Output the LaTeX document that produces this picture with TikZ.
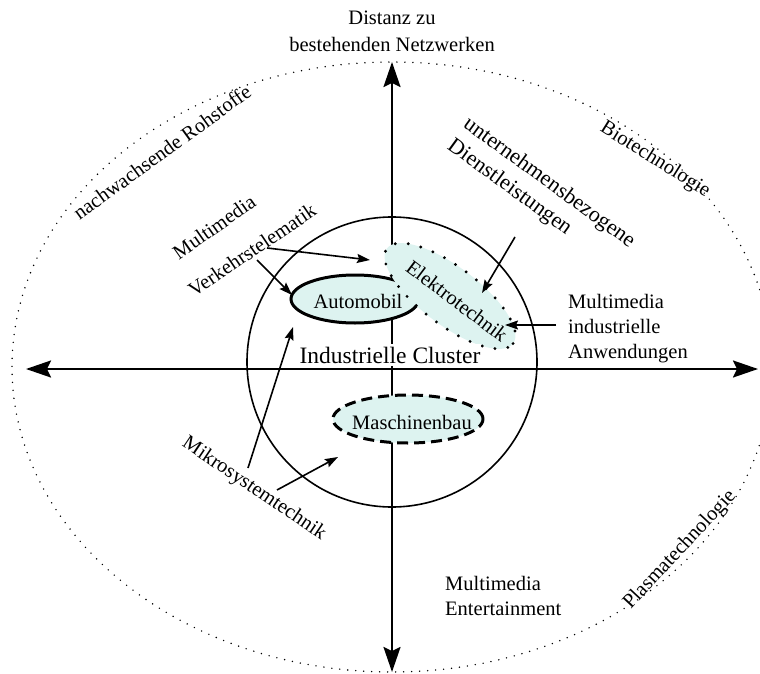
\documentclass[tikz,border=0pt]{standalone}
\usepackage{fontspec}
\setmainfont{Liberation Serif}
\usetikzlibrary{arrows.meta, shapes.geometric}

\definecolor{clusterfill}{RGB}{221,243,240}

\begin{document}
\begin{tikzpicture}[x=1pt, y=-1pt,
    achse/.style={line width=2.2pt, {Stealth[length=25pt,width=17pt,inset=4pt]}-{Stealth[length=25pt,width=17pt,inset=4pt]}},
    pfeil/.style={line width=1.6pt, -{Stealth[length=13pt,width=9pt,inset=2pt]}},
    feld/.style={ellipse, fill=clusterfill, inner sep=0pt},
    beschrift/.style={font=\fontsize{20.5}{25}\selectfont, inner sep=0pt}]
    \useasboundingbox (0,0) rectangle (760,674);

    % outer field and the cluster circle
    \draw[line width=1.6pt, dash pattern=on 0pt off 8pt, line cap=round] (392,367) ellipse (380 and 305);
    \draw[line width=1.6pt] (392,362) circle (145);

    % axes
    \coordinate (links) at (26,369);
    \coordinate (rechts) at (758,369);
    \coordinate (oben) at (392,62);
    \coordinate (unten) at (392,672);
    \draw[achse] (links) -- (rechts);
    \draw[achse] (unten) -- (oben);

    % the three clusters
    \node[feld, draw, line width=3pt, minimum width=128pt, minimum height=48pt] (automobil) at (355,299) {};
    \node[feld, draw, line width=3.2pt, dash pattern=on 0pt off 13pt, line cap=round,
          rotate=-37, minimum width=158pt, minimum height=58pt] (elektro) at (450,296) {};
    \node[feld, draw, line width=3pt, dash pattern=on 11pt off 6pt,
          minimum width=150pt, minimum height=48pt] (maschinenbau) at (408,419) {};

    \node[beschrift] (t-auto) at (358,301) {Automobil};
    \node[beschrift, rotate=-37] (t-elektro) at (457,301) {Elektrotechnik};
    \node[beschrift] (t-masch) at (412,422) {Maschinenbau};
    \node[font=\fontsize{23.5}{28}\selectfont, fill=white, inner xsep=1pt, inner ysep=3pt, anchor=base]
        (cluster) at (390,363) {Industrielle Cluster};

    % fields on the outer ring
    \node[beschrift, rotate=36] (rohstoffe) at (162,152) {nachwachsende Rohstoffe};
    \node[beschrift, rotate=-32] (bio) at (655,160) {Biotechnologie};
    \node[beschrift, rotate=47] (plasma) at (680,550) {Plasmatechnologie};
    \node[beschrift, font=\fontsize{20.5}{27}\selectfont, align=center, anchor=south]
        (distanz) at (392,52) {Distanz zu\\bestehenden Netzwerken};

    % technologies
    \node[beschrift, rotate=35] (mm-verkehr) at (214,227) {Multimedia};
    \node[beschrift, rotate=34] (verkehr) at (252,250) {Verkehrstelematik};
    \node[beschrift, font=\fontsize{22}{27}\selectfont, rotate=-36, align=left]
        (dienst) at (541,194) {unternehmensbezogene\\Dienstleistungen};
    \node[beschrift, rotate=-34] (mikro) at (254,489) {Mikrosystemtechnik};
    \node[beschrift, align=left, anchor=west] (anwend) at (568,329) {Multimedia\\industrielle\\Anwendungen};
    \node[beschrift, align=left, anchor=west] (enter) at (445,596) {Multimedia\\Entertainment};

    % arrows from the technologies to the clusters
    \coordinate (vt-a) at (267,248);   \coordinate (vt-a-ziel) at (370,260);
    \coordinate (vt-b) at (257,260);   \coordinate (vt-b-ziel) at (292,295);
    \coordinate (ms-a) at (248,468);   \coordinate (ms-a-ziel) at (293,327);
    \coordinate (ms-b) at (277,490);   \coordinate (ms-b-ziel) at (338,457);
    \coordinate (dl) at (515,237);     \coordinate (dl-ziel) at (482,293);
    \coordinate (mi) at (556,325);     \coordinate (mi-ziel) at (505,325);
    \foreach \von/\nach in {vt-a/vt-a-ziel, vt-b/vt-b-ziel, ms-a/ms-a-ziel, ms-b/ms-b-ziel, dl/dl-ziel, mi/mi-ziel}
        \draw[pfeil] (\von) -- (\nach);
\end{tikzpicture}
\end{document}
